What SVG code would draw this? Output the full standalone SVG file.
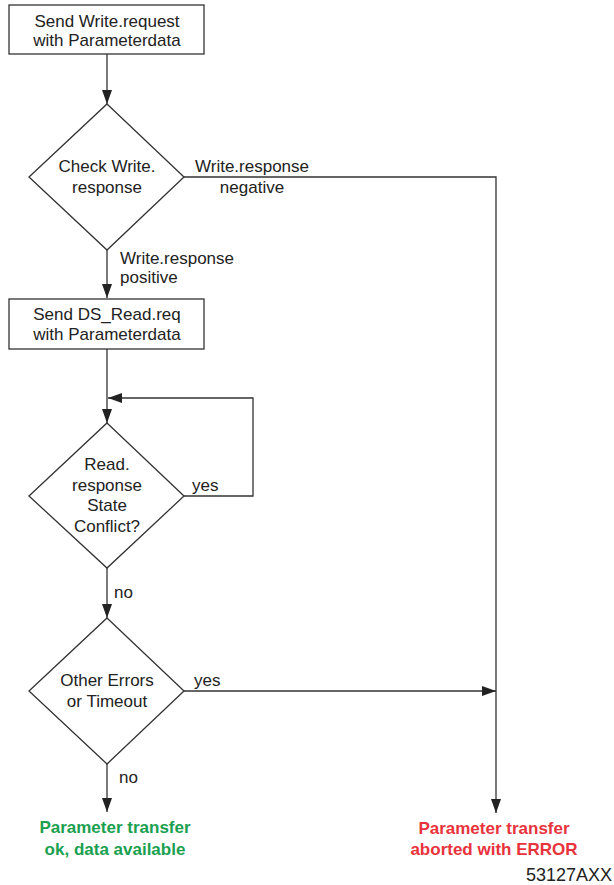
<svg xmlns="http://www.w3.org/2000/svg" width="614" height="885" viewBox="0 0 614 885">
<style>
.box{fill:#fff;stroke:#333;stroke-width:1.3}
.t{font-family:"Liberation Sans",Arial,sans-serif;font-size:17px;fill:#222}
.c{text-anchor:middle}
.ln{fill:none;stroke:#333;stroke-width:1.3}
.ok{font-family:"Liberation Sans",Arial,sans-serif;font-size:17px;font-weight:bold;fill:#1aa050;text-anchor:middle}
.err{font-family:"Liberation Sans",Arial,sans-serif;font-size:17px;font-weight:bold;fill:#e8323c;text-anchor:middle}
</style>
<defs>
<marker id="ah" markerUnits="userSpaceOnUse" markerWidth="14" markerHeight="10" viewBox="0 0 14 10" refX="14" refY="5" orient="auto">
<path d="M0,0 L14,5 L0,10 z" fill="#222"/>
</marker>
</defs>
<rect width="614" height="885" fill="#fff"/>
<g id="connectors">
<line class="ln" x1="107" y1="54" x2="107" y2="104" marker-end="url(#ah)"/>
<polyline class="ln" points="184,177 496,177 496,813" marker-end="url(#ah)"/>
<line class="ln" x1="107" y1="250" x2="107" y2="298" marker-end="url(#ah)"/>
<line class="ln" x1="107" y1="349" x2="107" y2="423" marker-end="url(#ah)"/>
<polyline class="ln" points="184,496 253,496 253,398 108,398" marker-end="url(#ah)"/>
<line class="ln" x1="107" y1="568" x2="107" y2="618" marker-end="url(#ah)"/>
<line class="ln" x1="184" y1="691" x2="496" y2="691" marker-end="url(#ah)"/>
<line class="ln" x1="107" y1="764" x2="107" y2="812" marker-end="url(#ah)"/>
<text class="t" x="195" y="172">Write.response</text>
<text class="t c" x="252" y="193">negative</text>
<text class="t" x="120" y="264">Write.response</text>
<text class="t" x="120" y="283">positive</text>
<text class="t" x="192" y="491">yes</text>
<text class="t" x="114" y="598">no</text>
<text class="t" x="194" y="686">yes</text>
<text class="t" x="119" y="783">no</text>
</g>
<g id="send-write">
<rect class="box" x="9" y="5" width="195" height="49"/>
<text class="t c" x="107" y="26.5">Send Write.request</text>
<text class="t c" x="107" y="46">with Parameterdata</text>
</g>
<g id="check-write">
<polygon class="box" points="107,104 184,177 107,250 29,177"/>
<text class="t c" x="107" y="172">Check Write.</text>
<text class="t c" x="107" y="193">response</text>
</g>
<g id="send-read">
<rect class="box" x="9" y="299" width="195" height="50"/>
<text class="t c" x="107" y="319.5">Send DS_Read.req</text>
<text class="t c" x="107" y="339.5">with Parameterdata</text>
</g>
<g id="state-conflict">
<polygon class="box" points="107,423 184,496 107,568 29,496"/>
<text class="t c" x="107" y="470">Read.</text>
<text class="t c" x="107" y="490.5">response</text>
<text class="t c" x="107" y="511">State</text>
<text class="t c" x="107" y="532">Conflict?</text>
</g>
<g id="other-errors">
<polygon class="box" points="107,618 184,691 107,764 29,691"/>
<text class="t c" x="107" y="686">Other Errors</text>
<text class="t c" x="107" y="707">or Timeout</text>
</g>
<g id="ok-end">
<text class="ok" x="115" y="833">Parameter transfer</text>
<text class="ok" x="115" y="854.5">ok, data available</text>
</g>
<g id="error-end">
<text class="err" x="494" y="834">Parameter transfer</text>
<text class="err" x="494" y="855">aborted with ERROR</text>
</g>
<text class="t" x="612" y="881" text-anchor="end" style="font-size:18px">53127AXX</text>
</svg>
